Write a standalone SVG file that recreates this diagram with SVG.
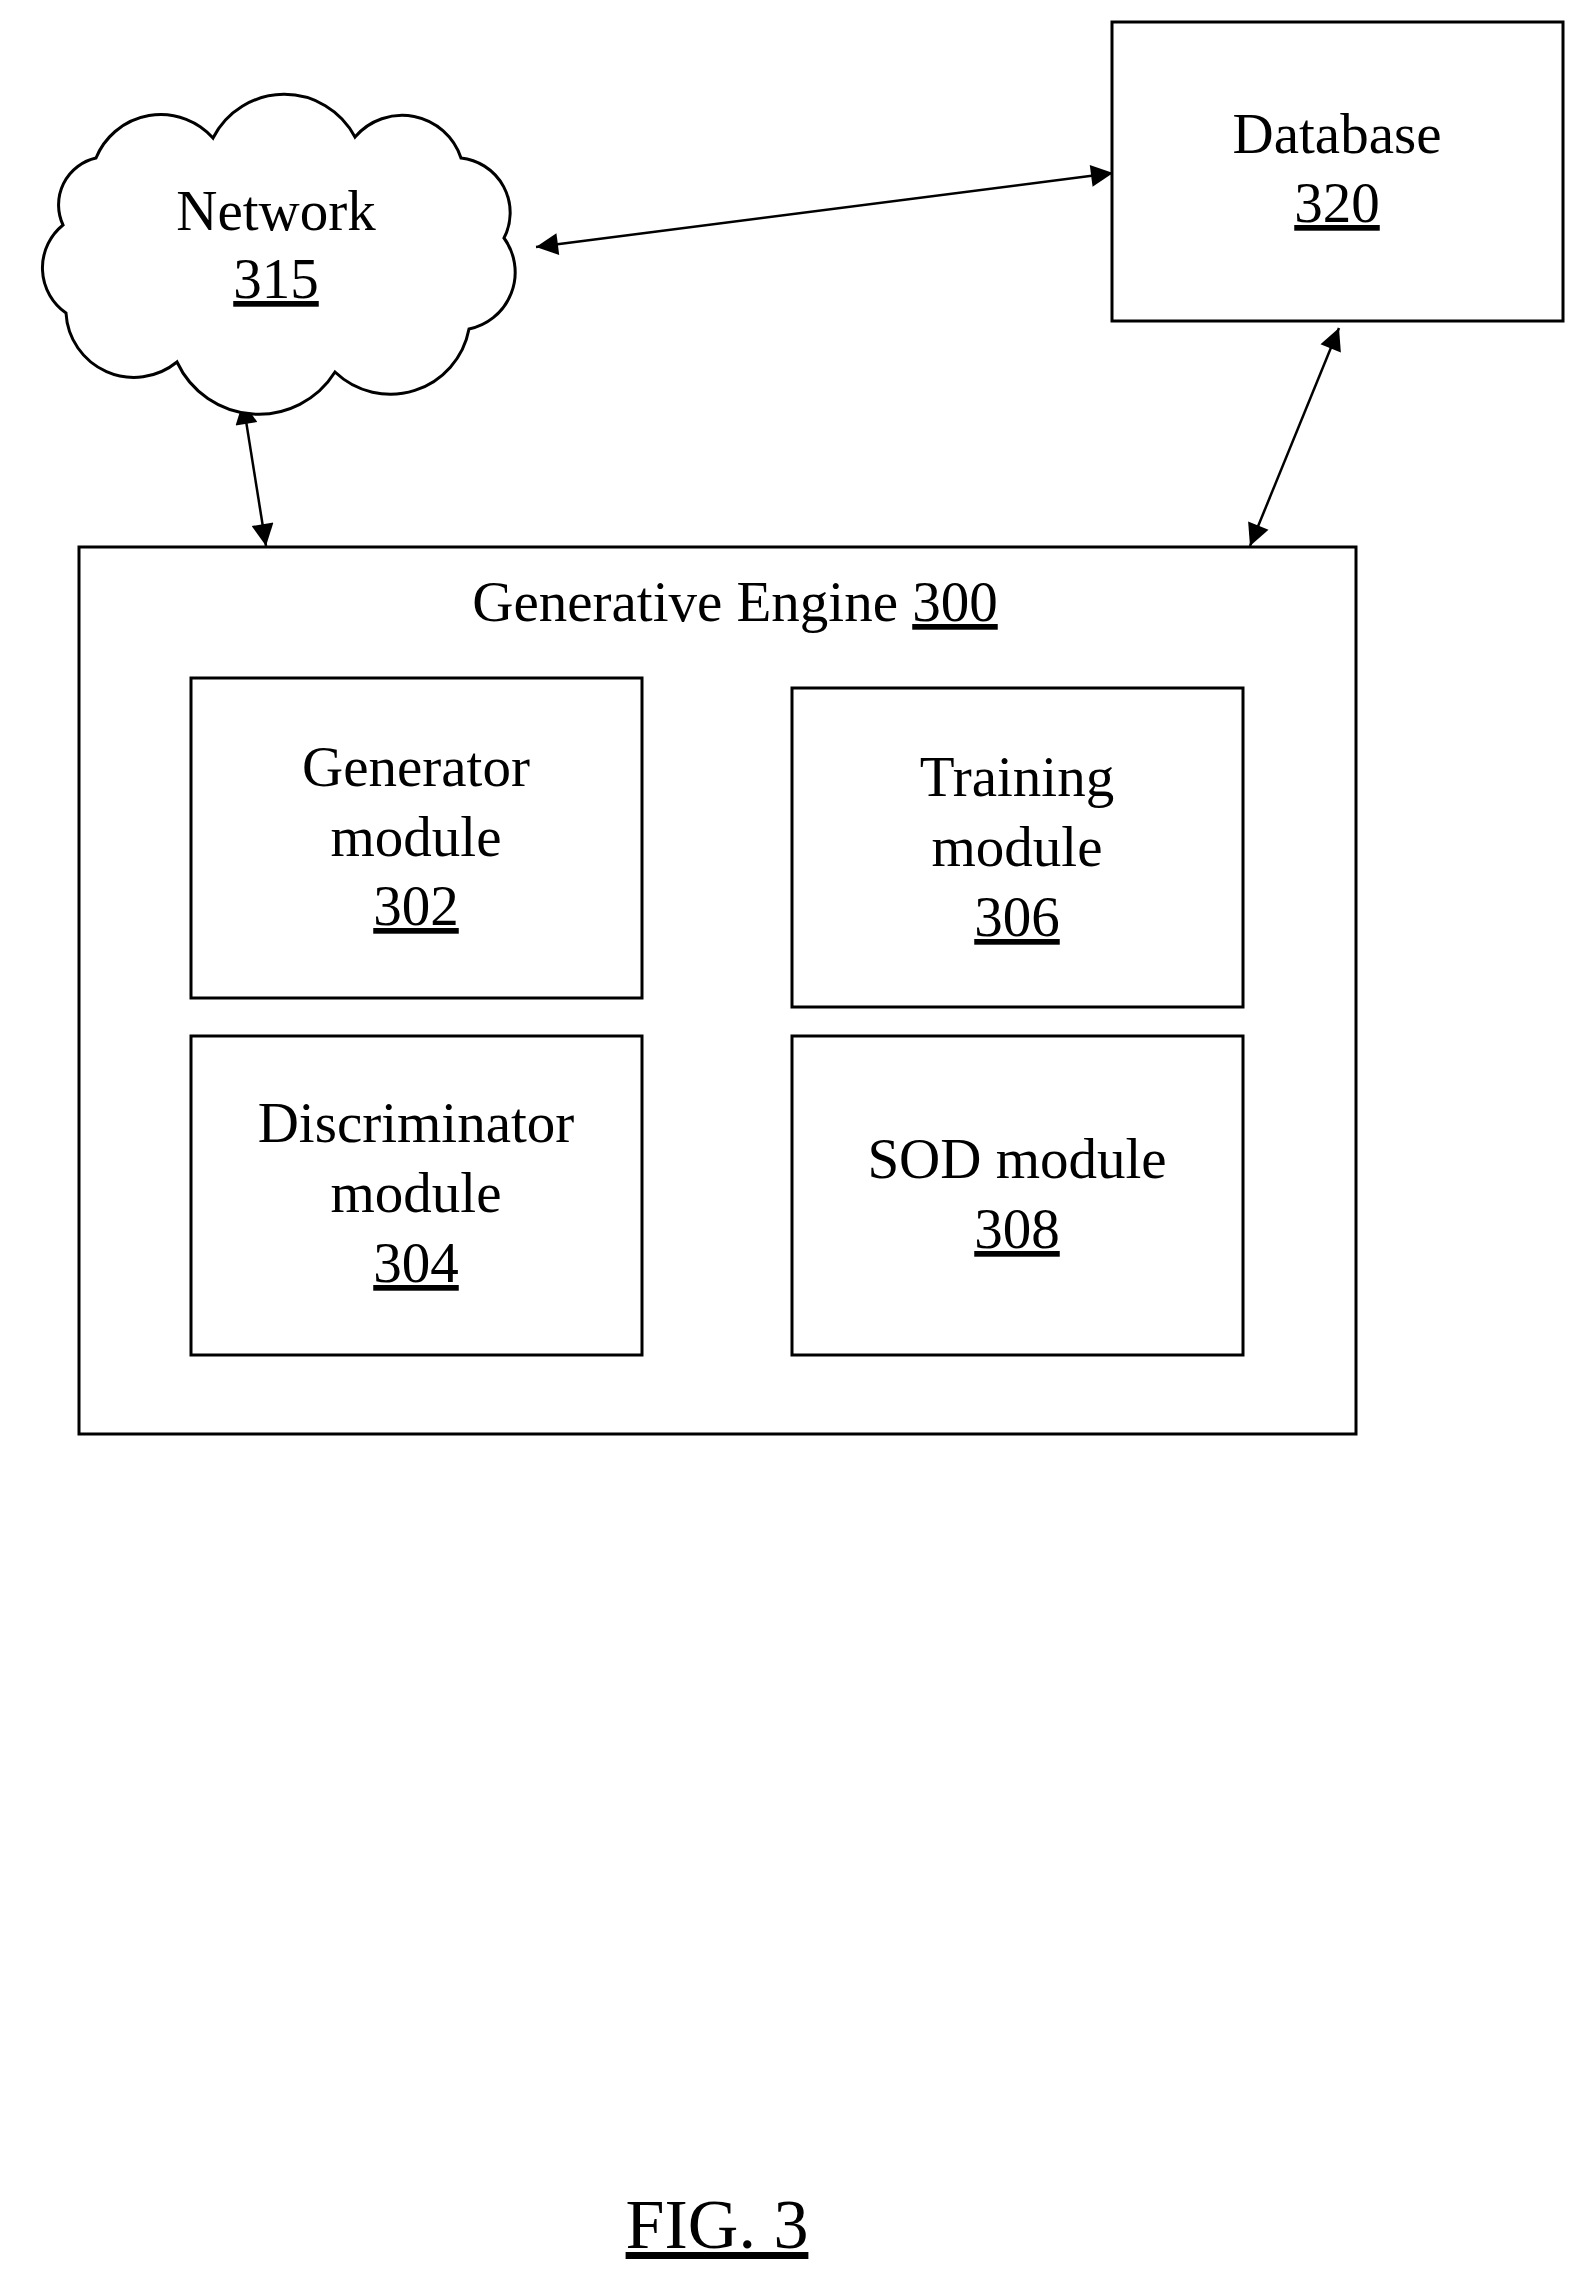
<svg xmlns="http://www.w3.org/2000/svg" width="1582" height="2278" viewBox="0 0 1582 2278">
<style>
.b{fill:#fff;stroke:#000;stroke-width:3}
.t{font-family:"Liberation Serif",serif;font-size:57px;text-anchor:middle;fill:#000}
.u{text-decoration:underline}
.c{stroke:#000;stroke-width:2.5;fill:none;marker-start:url(#a);marker-end:url(#a)}
</style>
<defs><marker id="a" viewBox="0 0 10 10" refX="10" refY="5" markerWidth="28" markerHeight="22" markerUnits="userSpaceOnUse" orient="auto-start-reverse"><path d="M0,0 L10,5 L0,10 z" fill="#000"/></marker></defs>
<rect width="1582" height="2278" fill="#fff"/>
<g id="connectors">
<line class="c" x1="536" y1="247" x2="1113" y2="173"/>
<line class="c" x1="243" y1="402" x2="266" y2="546"/>
<line class="c" x1="1339" y1="328" x2="1250" y2="546"/>
</g>
<g id="network">
<path class="b" d="M96,158 A70,70 0 0 1 213,138 A80,80 0 0 1 355,137 A62,62 0 0 1 461,158 A55,55 0 0 1 504,238 A58,58 0 0 1 469,329 A80,80 0 0 1 335,372 A90,90 0 0 1 177,362 A68,68 0 0 1 66,313 A55,55 0 0 1 63,225 A48,48 0 0 1 96,158 Z"/>
<text class="t" x="276" y="230">Network</text>
<text class="t u" x="276" y="298">315</text>
</g>
<g id="database">
<rect class="b" x="1112" y="22" width="451" height="299"/>
<text class="t" x="1337" y="153">Database</text>
<text class="t u" x="1337" y="222">320</text>
</g>
<g id="engine">
<rect class="b" x="79" y="547" width="1277" height="887"/>
<text class="t" x="735" y="621">Generative Engine <tspan class="u">300</tspan></text>
</g>
<g id="generator">
<rect class="b" x="191" y="678" width="451" height="320"/>
<text class="t" x="416" y="786">Generator</text>
<text class="t" x="416" y="856">module</text>
<text class="t u" x="416" y="925">302</text>
</g>
<g id="training">
<rect class="b" x="792" y="688" width="451" height="319"/>
<text class="t" x="1017" y="796">Training</text>
<text class="t" x="1017" y="866">module</text>
<text class="t u" x="1017" y="936">306</text>
</g>
<g id="discriminator">
<rect class="b" x="191" y="1036" width="451" height="319"/>
<text class="t" x="416" y="1142">Discriminator</text>
<text class="t" x="416" y="1212">module</text>
<text class="t u" x="416" y="1282">304</text>
</g>
<g id="sod">
<rect class="b" x="792" y="1036" width="451" height="319"/>
<text class="t" x="1017" y="1178">SOD module</text>
<text class="t u" x="1017" y="1248">308</text>
</g>
<text class="t u" x="717" y="2248" style="font-size:70px">FIG. 3</text>
</svg>
